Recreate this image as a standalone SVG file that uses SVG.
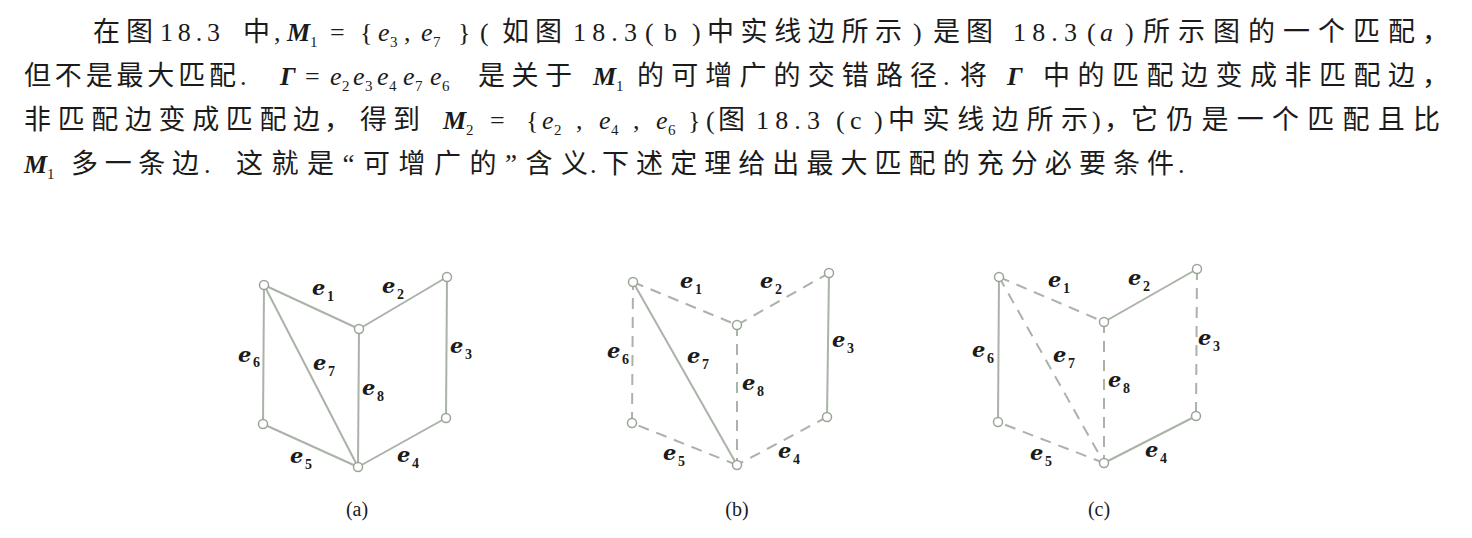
<svg xmlns="http://www.w3.org/2000/svg" width="1472" height="538" viewBox="0 0 1472 538">
<style>
.c{font-family:"Liberation Serif","Noto Sans CJK SC",serif;font-size:27px;fill:#1b1b1b}
.n{font-family:"Liberation Serif",serif;font-size:26px;fill:#1b1b1b}
.mi{font-family:"Liberation Serif",serif;font-style:italic;font-size:26px;fill:#1b1b1b}
.mb{font-family:"Liberation Serif",serif;font-style:italic;font-weight:bold;font-size:26px;fill:#1b1b1b}
.s{font-family:"Liberation Serif",serif;font-size:15px;fill:#1b1b1b}
.edge{stroke:#a9b3a7;stroke-width:2;fill:none}
.dash{stroke:#a9b3a7;stroke-width:2;fill:none;stroke-dasharray:11 8}
.v{fill:#fff;stroke:#9aa598;stroke-width:1.5}
.lb{font-family:"DejaVu Serif",serif;font-style:italic;font-weight:bold;font-size:21px;fill:#1b1b1b}
.ls{font-family:"Liberation Serif",serif;font-weight:bold;font-size:14px;fill:#1b1b1b}
.cap{font-family:"Liberation Serif",serif;font-size:20px;fill:#1b1b1b;text-anchor:middle}
</style>
<rect width="1472" height="538" fill="#ffffff"/>
<g id="paragraph">
<!-- line 1 -->
<text class="c" x="93" y="41" textLength="60" lengthAdjust="spacing">在图</text>
<text class="n" x="160" y="41" textLength="60" lengthAdjust="spacing">18.3</text>
<text class="c" x="243" y="41">中</text>
<text class="n" x="274" y="41">,</text>
<text class="mb" x="287" y="41">M</text><text class="s" x="310" y="47">1</text>
<text class="n" x="330" y="41">=</text>
<text class="n" x="360" y="41">{</text>
<text class="mi" x="378" y="41">e</text><text class="s" x="390" y="47">3</text>
<text class="n" x="404" y="41">,</text>
<text class="mi" x="421" y="41">e</text><text class="s" x="433" y="47">7</text>
<text class="n" x="458" y="41">}</text>
<text class="n" x="480" y="41">(</text>
<text class="c" x="502" y="41" textLength="60" lengthAdjust="spacing">如图</text>
<text class="n" x="573" y="41" textLength="64" lengthAdjust="spacing">18.3</text>
<text class="n" x="645" y="41">(</text>
<text class="n" x="664" y="41">b</text>
<text class="n" x="692" y="41">)</text>
<text class="c" x="707" y="41" textLength="195" lengthAdjust="spacing">中实线边所示</text>
<text class="n" x="913" y="41">)</text>
<text class="c" x="933" y="41" textLength="60" lengthAdjust="spacing">是图</text>
<text class="n" x="1013" y="41" textLength="64" lengthAdjust="spacing">18.3</text>
<text class="n" x="1087" y="41">(</text>
<text class="mi" x="1100" y="41">a</text>
<text class="n" x="1125" y="41">)</text>
<text class="c" x="1143" y="41" textLength="272" lengthAdjust="spacing">所示图的一个匹配</text>
<text class="c" x="1422" y="41">，</text>
<!-- line 2 -->
<text class="c" x="24" y="85" textLength="212" lengthAdjust="spacing">但不是最大匹配</text>
<text class="n" x="240" y="85">.</text>
<text class="mb" x="280" y="85">Γ</text>
<text class="n" x="305" y="85">=</text>
<text class="mi" x="330" y="85">e</text><text class="s" x="342" y="91">2</text>
<text class="mi" x="353" y="85">e</text><text class="s" x="365" y="91">3</text>
<text class="mi" x="377" y="85">e</text><text class="s" x="389" y="91">4</text>
<text class="mi" x="403" y="85">e</text><text class="s" x="415" y="91">7</text>
<text class="mi" x="430" y="85">e</text><text class="s" x="442" y="91">6</text>
<text class="c" x="478" y="85" textLength="94" lengthAdjust="spacing">是关于</text>
<text class="mb" x="593" y="85">M</text><text class="s" x="616" y="91">1</text>
<text class="c" x="637" y="85" textLength="300" lengthAdjust="spacing">的可增广的交错路径</text>
<text class="n" x="943" y="85">.</text>
<text class="c" x="960" y="85">将</text>
<text class="mb" x="1007" y="85">Γ</text>
<text class="c" x="1043" y="85" textLength="372" lengthAdjust="spacing">中的匹配边变成非匹配边</text>
<text class="c" x="1422" y="85">，</text>
<!-- line 3 -->
<text class="c" x="24" y="129" textLength="296" lengthAdjust="spacing">非匹配边变成匹配边</text>
<text class="c" x="324" y="129">，</text>
<text class="c" x="360" y="129" textLength="60" lengthAdjust="spacing">得到</text>
<text class="mb" x="443" y="129">M</text><text class="s" x="466" y="135">2</text>
<text class="n" x="490" y="129">=</text>
<text class="n" x="526" y="129">{</text>
<text class="mi" x="542" y="129">e</text><text class="s" x="554" y="135">2</text>
<text class="n" x="576" y="129">,</text>
<text class="mi" x="599" y="129">e</text><text class="s" x="611" y="135">4</text>
<text class="n" x="633" y="129">,</text>
<text class="mi" x="656" y="129">e</text><text class="s" x="668" y="135">6</text>
<text class="n" x="688" y="129">}</text>
<text class="n" x="706" y="129">(</text>
<text class="c" x="718" y="129">图</text>
<text class="n" x="756" y="129" textLength="64" lengthAdjust="spacing">18.3</text>
<text class="n" x="836" y="129">(</text>
<text class="n" x="850" y="129">c</text>
<text class="n" x="874" y="129">)</text>
<text class="c" x="888" y="129" textLength="200" lengthAdjust="spacing">中实线边所示</text>
<text class="n" x="1092" y="129">)</text>
<text class="c" x="1104" y="129">，</text>
<text class="c" x="1131" y="129" textLength="309" lengthAdjust="spacing">它仍是一个匹配且比</text>
<!-- line 4 -->
<text class="mb" x="24" y="173">M</text><text class="s" x="47" y="179">1</text>
<text class="c" x="71" y="173" textLength="128" lengthAdjust="spacing">多一条边</text>
<text class="n" x="204" y="173">.</text>
<text class="c" x="236" y="173" textLength="352" lengthAdjust="spacing">这就是“可增广的”含义</text>
<text class="n" x="590" y="173">.</text>
<text class="c" x="602" y="173" textLength="572" lengthAdjust="spacing">下述定理给出最大匹配的充分必要条件</text>
<text class="n" x="1178" y="173">.</text>
</g>
<g id="connectors">
<!-- (a) -->
<line class="edge" x1="264" y1="285" x2="359" y2="329"/>
<line class="edge" x1="359" y1="329" x2="447" y2="277"/>
<line class="edge" x1="447" y1="277" x2="446" y2="418"/>
<line class="edge" x1="446" y1="418" x2="358" y2="467"/>
<line class="edge" x1="358" y1="467" x2="263" y2="424"/>
<line class="edge" x1="263" y1="424" x2="264" y2="285"/>
<line class="edge" x1="264" y1="285" x2="358" y2="467"/>
<line class="edge" x1="359" y1="329" x2="358" y2="467"/>
<!-- (b) -->
<line class="dash" x1="633" y1="282" x2="737" y2="325"/>
<line class="dash" x1="737" y1="325" x2="829" y2="273"/>
<line class="edge" x1="829" y1="273" x2="827" y2="417"/>
<line class="dash" x1="827" y1="417" x2="737" y2="465"/>
<line class="dash" x1="737" y1="465" x2="632" y2="423"/>
<line class="dash" x1="632" y1="423" x2="633" y2="282"/>
<line class="edge" x1="633" y1="282" x2="737" y2="465"/>
<line class="dash" x1="737" y1="325" x2="737" y2="465"/>
<!-- (c) -->
<line class="dash" x1="999" y1="277" x2="1104" y2="322"/>
<line class="edge" x1="1104" y1="322" x2="1197" y2="269"/>
<line class="dash" x1="1197" y1="269" x2="1196" y2="416"/>
<line class="edge" x1="1196" y1="416" x2="1104" y2="463"/>
<line class="dash" x1="1104" y1="463" x2="998" y2="422"/>
<line class="edge" x1="998" y1="422" x2="999" y2="277"/>
<line class="dash" x1="999" y1="277" x2="1104" y2="463"/>
<line class="dash" x1="1104" y1="322" x2="1104" y2="463"/>
</g>
<g id="graph-a">
<circle class="v" cx="264" cy="285" r="4.5"/>
<circle class="v" cx="447" cy="277" r="4.5"/>
<circle class="v" cx="359" cy="329" r="4.5"/>
<circle class="v" cx="263" cy="424" r="4.5"/>
<circle class="v" cx="446" cy="418" r="4.5"/>
<circle class="v" cx="358" cy="467" r="4.5"/>
<text class="lb" x="312" y="295">e</text><text class="ls" x="327" y="301">1</text>
<text class="lb" x="382" y="293">e</text><text class="ls" x="397" y="299">2</text>
<text class="lb" x="450" y="353">e</text><text class="ls" x="465" y="359">3</text>
<text class="lb" x="238" y="362">e</text><text class="ls" x="253" y="367">6</text>
<text class="lb" x="313" y="370">e</text><text class="ls" x="328" y="376">7</text>
<text class="lb" x="362" y="395">e</text><text class="ls" x="377" y="401">8</text>
<text class="lb" x="290" y="463">e</text><text class="ls" x="305" y="469">5</text>
<text class="lb" x="397" y="462">e</text><text class="ls" x="412" y="468">4</text>
<text class="cap" x="357" y="516">(a)</text>
</g>
<g id="graph-b">
<circle class="v" cx="633" cy="282" r="4.5"/>
<circle class="v" cx="829" cy="273" r="4.5"/>
<circle class="v" cx="737" cy="325" r="4.5"/>
<circle class="v" cx="632" cy="423" r="4.5"/>
<circle class="v" cx="827" cy="417" r="4.5"/>
<circle class="v" cx="737" cy="465" r="4.5"/>
<text class="lb" x="680" y="288">e</text><text class="ls" x="695" y="294">1</text>
<text class="lb" x="760" y="288">e</text><text class="ls" x="775" y="294">2</text>
<text class="lb" x="832" y="347">e</text><text class="ls" x="847" y="353">3</text>
<text class="lb" x="607" y="358">e</text><text class="ls" x="622" y="364">6</text>
<text class="lb" x="687" y="363">e</text><text class="ls" x="702" y="369">7</text>
<text class="lb" x="742" y="390">e</text><text class="ls" x="757" y="396">8</text>
<text class="lb" x="663" y="460">e</text><text class="ls" x="678" y="466">5</text>
<text class="lb" x="778" y="458">e</text><text class="ls" x="793" y="464">4</text>
<text class="cap" x="737" y="516">(b)</text>
</g>
<g id="graph-c">
<circle class="v" cx="999" cy="277" r="4.5"/>
<circle class="v" cx="1197" cy="269" r="4.5"/>
<circle class="v" cx="1104" cy="322" r="4.5"/>
<circle class="v" cx="998" cy="422" r="4.5"/>
<circle class="v" cx="1196" cy="416" r="4.5"/>
<circle class="v" cx="1104" cy="463" r="4.5"/>
<text class="lb" x="1048" y="287">e</text><text class="ls" x="1063" y="293">1</text>
<text class="lb" x="1128" y="285">e</text><text class="ls" x="1143" y="291">2</text>
<text class="lb" x="1198" y="345">e</text><text class="ls" x="1213" y="351">3</text>
<text class="lb" x="972" y="357">e</text><text class="ls" x="987" y="363">6</text>
<text class="lb" x="1053" y="362">e</text><text class="ls" x="1068" y="368">7</text>
<text class="lb" x="1108" y="387">e</text><text class="ls" x="1123" y="393">8</text>
<text class="lb" x="1030" y="460">e</text><text class="ls" x="1045" y="466">5</text>
<text class="lb" x="1145" y="457">e</text><text class="ls" x="1160" y="463">4</text>
<text class="cap" x="1099" y="516">(c)</text>
</g>
</svg>
